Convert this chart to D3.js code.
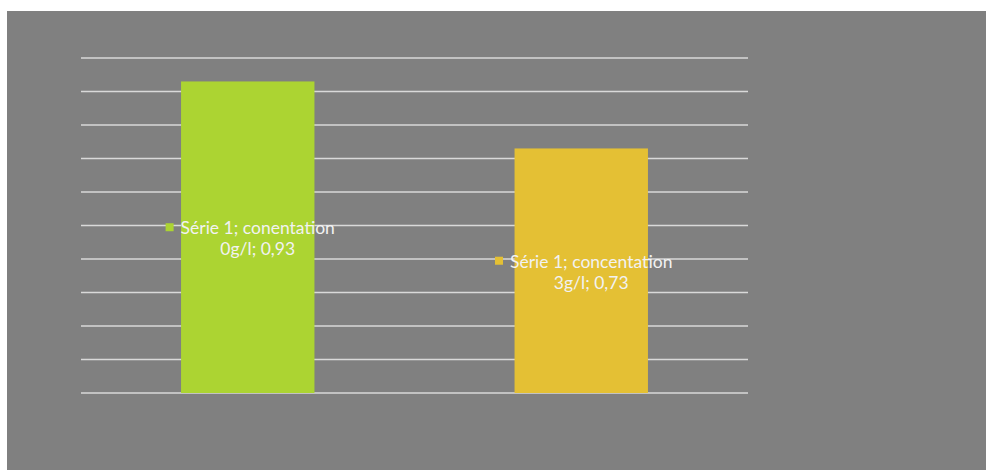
<!DOCTYPE html>
<html>
<head>
<meta charset="utf-8">
<script src="https://cdn.jsdelivr.net/npm/d3@7"></script>
<style>
  body { margin: 0; background: #fff; }
  text { font-family: "Lato", "Open Sans", sans-serif; }
</style>
</head>
<body>
<div id="main"></div>
<script>
const ctx = {
    w: 986,
    h: 470
};

// chart data
const categories = ["0g/l", "3g/l"];
const values = [0.93, 0.73];
const seriesNames = ["conentation", "concentation"];
const barColors = ["#acd432", "#e4c034"];
const yTicks = [0, 0.1, 0.2, 0.3, 0.4, 0.5, 0.6, 0.7, 0.8, 0.9, 1.0];

function createViz() {
    let svgEl = d3.select("#main").append("svg")
        .attr("width", ctx.w)
        .attr("height", ctx.h);

    // gray chart area
    svgEl.append("rect")
        .attr("x", 7).attr("y", 11)
        .attr("width", ctx.w - 7).attr("height", ctx.h - 11)
        .attr("fill", "#808080");

    let xScale = d3.scaleBand().domain(categories).range([81, 748]);
    let yScale = d3.scaleLinear().domain([0, 1]).range([393, 58]);
    let barW = xScale.bandwidth() * 0.4;

    // gridlines
    svgEl.append("g").selectAll("line")
        .data(yTicks)
        .enter()
        .append("line")
        .attr("x1", 81).attr("x2", 748)
        .attr("y1", (d) => yScale(d)).attr("y2", (d) => yScale(d))
        .attr("stroke", "#d9d9d9")
        .attr("stroke-width", 1.3);

    // bars
    svgEl.append("g").selectAll("rect")
        .data(values)
        .enter()
        .append("rect")
        .attr("x", (d, i) => xScale(categories[i]) + xScale.bandwidth() / 2 - barW / 2)
        .attr("y", (d) => yScale(d))
        .attr("width", barW)
        .attr("height", (d) => yScale(0) - yScale(d))
        .attr("fill", (d, i) => barColors[i]);

    // data labels, centered in bar
    values.forEach((v, i) => {
        let cx = xScale(categories[i]) + xScale.bandwidth() / 2 + 10;
        let cy = (yScale(v) + yScale(0)) / 2;
        let g = svgEl.append("g");
        let line1 = g.append("text")
            .attr("x", cx).attr("y", cy - 3)
            .attr("text-anchor", "middle")
            .attr("font-size", 17.5)
            .attr("fill", "#f2f2f2")
            .text(`Série 1; ${seriesNames[i]}`);
        let len = line1.node().getComputedTextLength();
        g.append("rect")
            .attr("x", cx - len / 2 - 15).attr("y", cy - 14)
            .attr("width", 8).attr("height", 8)
            .attr("fill", barColors[i]);
        g.append("text")
            .attr("x", cx).attr("y", cy + 18)
            .attr("text-anchor", "middle")
            .attr("font-size", 17.5)
            .attr("fill", "#f2f2f2")
            .text(`${categories[i]}; ${String(v).replace(".", ",")}`);
    });
}

createViz();
</script>
</body>
</html>
